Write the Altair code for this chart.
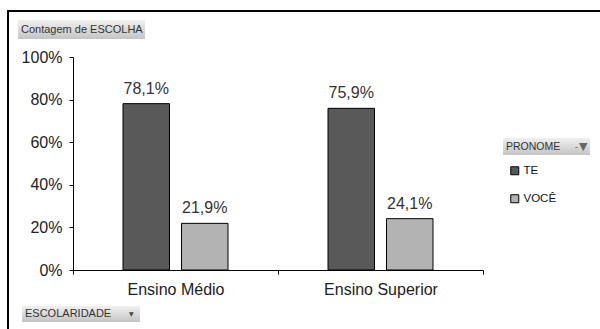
import altair as alt
import pandas as pd

escolaridade = ["Ensino Médio", "Ensino Médio", "Ensino Superior", "Ensino Superior"]
pronome = ["TE", "VOCÊ", "TE", "VOCÊ"]
valores = [0.781, 0.219, 0.759, 0.241]
y_ticks = [0, 0.2, 0.4, 0.6, 0.8, 1.0]
cores = ["#595959", "#b3b3b3"]

df = pd.DataFrame({"ESCOLARIDADE": escolaridade, "PRONOME": pronome, "valor": valores})

FONT = "Liberation Sans"
grad = alt.Gradient(
    gradient="linear",
    stops=[alt.GradientStop(color="#f0f0f0", offset=0), alt.GradientStop(color="#c4c4c4", offset=1)],
    x1=0, x2=0, y1=0, y2=1,
)

x = alt.X(
    "ESCOLARIDADE:N",
    sort=["Ensino Médio", "Ensino Superior"],
    scale=alt.Scale(paddingInner=0, paddingOuter=0),
    axis=alt.Axis(title=None, labelAngle=0, tickBand="extent", labelPadding=7),
)
xo = alt.XOffset("PRONOME:N", scale=alt.Scale(paddingInner=0.205, paddingOuter=0.855))
y = alt.Y(
    "valor:Q",
    scale=alt.Scale(domain=[0, 1]),
    axis=alt.Axis(title=None, values=y_ticks, format=".0%", labelPadding=7),
)
color = alt.Color(
    "PRONOME:N",
    scale=alt.Scale(domain=["TE", "VOCÊ"], range=cores),
    legend=alt.Legend(
        title=None, orient="none", legendX=436, legendY=108,
        symbolType="square", symbolSize=64, symbolStrokeColor="black", symbolStrokeWidth=1,
        labelFont=FONT, labelFontSize=11.5, labelColor="#111", rowPadding=15, padding=0, labelOffset=3,
    ),
)

base = alt.Chart(df)
bars = base.mark_bar(stroke="black", strokeWidth=1).encode(x=x, xOffset=xo, y=y, color=color)
labels = base.transform_calculate(
    lbl="replace(format(datum.valor * 100, '.1f'), '.', ',') + '%'"
).mark_text(dy=-10, baseline="alphabetic", font=FONT, fontSize=16, color="#333").encode(
    x=x, xOffset=xo, y=y, text="lbl:N"
)

one = pd.DataFrame({"a": [0]})


def box(x1, x2, y1, y2, fill=grad):
    return alt.Chart(one).mark_rect(fill=fill).encode(
        x=alt.value(x1), x2=alt.value(x2), y=alt.value(y1), y2=alt.value(y2)
    )


def txt(t, xx, yy, size=11, col="#333", font=FONT):
    return alt.Chart(one).mark_text(
        text=t, align="left", baseline="middle", fontSize=size, color=col, font=font
    ).encode(x=alt.value(xx), y=alt.value(yy))


deco = [
    box(-66, 530, -47, -45, fill="black"),
    box(-66, -64, -47, 280, fill="black"),
    box(-55, 72, -37, -18), txt("Contagem de ESCOLHA", -52, -27.5),
    box(-51, 67, 249, 265), txt("ESCOLARIDADE", -48, 257), txt("▼", 56, 257, size=6, col="#444", font="DejaVu Sans"),
    box(430, 517, 81, 98), txt("PRONOME", 433, 89.5, size=10.5), txt("-", 502, 90, size=9, col="#555"),
    txt("▼", 506, 89.5, size=11, col="#666", font="DejaVu Sans"),
]

chart = alt.layer(bars, labels, *deco).properties(
    width=410, height=213,
    autosize=alt.AutoSizeParams(type="none"),
    padding={"left": 73, "top": 57, "right": 117, "bottom": 59},
    background="white",
).configure_view(stroke=None).configure_axis(
    grid=False, domainColor="black", domainWidth=1, tickColor="black", tickSize=4,
    labelFont=FONT, labelFontSize=16, labelColor="#222",
)

chart.save("out.html", embed_options={"renderer": "svg", "actions": False})
